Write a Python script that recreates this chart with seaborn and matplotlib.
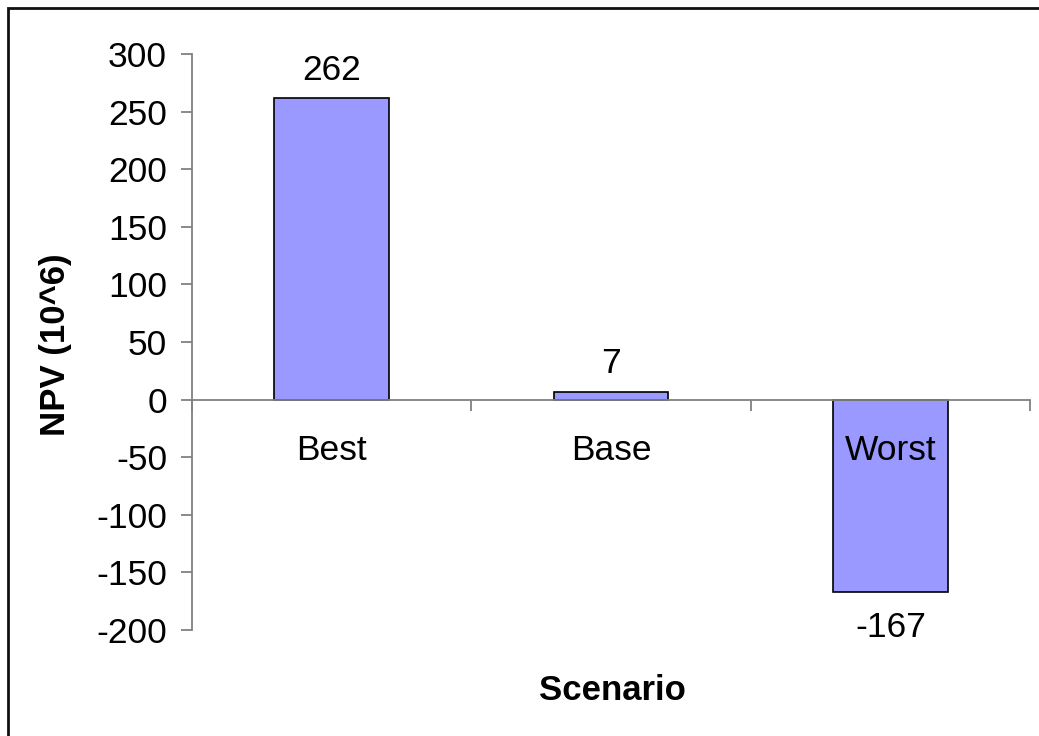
import matplotlib
matplotlib.use("Agg")
import matplotlib.pyplot as plt
import seaborn as sns
import pandas as pd
from matplotlib.patches import Rectangle
from matplotlib.ticker import FixedLocator

# --- datos ---
escenarios = ["Best", "Base", "Worst"]
npv = [262, 7, -167]
yticks = [-200, -150, -100, -50, 0, 50, 100, 150, 200, 250, 300]

df = pd.DataFrame({"Scenario": escenarios, "NPV": npv})

sns.set_style("white")
plt.rcParams["font.family"] = ["Liberation Sans", "DejaVu Sans"]
plt.rcParams["text.color"] = "black"
plt.rcParams["xtick.labelcolor"] = "black"
plt.rcParams["ytick.labelcolor"] = "black"

fig = plt.figure(figsize=(10.39, 7.36), dpi=100)
ax = fig.add_axes([192 / 1039, 1 - 630 / 736, 838 / 1039, 576 / 736])

sns.barplot(data=df, x="Scenario", y="NPV", color="#9999FF", saturation=1,
            edgecolor="black", linewidth=1.2, width=0.41, ax=ax)

ax.set_xlim(-0.5, 2.5)
ax.set_ylim(-200, 300)
ax.set_yticks(yticks)
ax.set_yticklabels([str(v) for v in yticks], fontsize=25.5)

# eje x en cero, marcas en los límites de categoría
for s in ["top", "right"]:
    ax.spines[s].set_visible(False)
ax.spines["bottom"].set_position(("data", 0))
for s in ["bottom", "left"]:
    ax.spines[s].set_color("#808080")
    ax.spines[s].set_linewidth(1.3)
ax.set_axisbelow(False)
for b in ax.patches:
    b.set_zorder(2)
ax.patch.set_alpha(0)

ax.set_xticks(range(len(escenarios)))
ax.set_xticklabels(escenarios, fontsize=25.5)
ax.xaxis.set_minor_locator(FixedLocator([-0.5, 0.5, 1.5, 2.5]))
ax.tick_params(axis="x", which="major", length=0, pad=25)
ax.tick_params(axis="x", which="minor", bottom=True, length=8, width=1.3,
               color="#808080", direction="out")
ax.tick_params(axis="y", length=8, width=1.3, color="#808080", direction="out",
               pad=10, left=True)

ax.set_xlabel("")
ax.set_ylabel("")

for c in ax.containers:
    ax.bar_label(c, labels=[str(v) for v in npv], fontsize=25.5, padding=8)
    # la etiqueta negativa algo más separada
    for t, v in zip(ax.texts[-len(npv):], npv):
        if v < 0:
            t.xyann = (t.xyann[0], t.xyann[1] - 6)

fig.text(55 / 1039, 1 - 345 / 736, "NPV (10^6)", rotation=90, ha="center", va="center",
         fontsize=25, fontweight="bold")
fig.text(612 / 1039, 1 - 690 / 736, "Scenario", ha="center", va="center",
         fontsize=25, fontweight="bold")

# marco del gráfico
fig.patches.append(Rectangle((8 / 1039, -0.1), 1.2, 1 - 8 / 736 + 0.1, transform=fig.transFigure,
                             fill=False, edgecolor="#111111", linewidth=2))

fig.savefig("out.png", dpi=100)
